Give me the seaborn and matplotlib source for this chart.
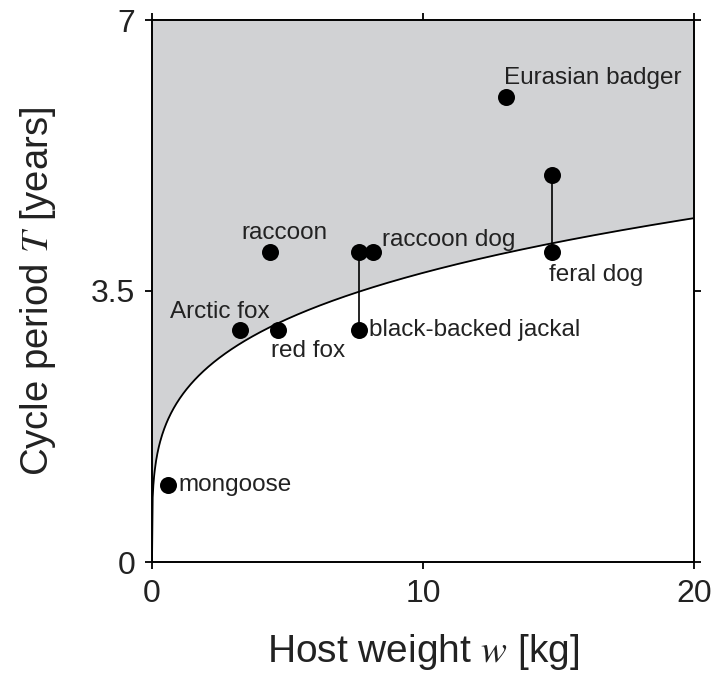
import numpy as np
import pandas as pd
import matplotlib
matplotlib.use("Agg")
import matplotlib.pyplot as plt
import seaborn as sns

# ---- data ----
species = ["mongoose", "Arctic fox", "red fox", "raccoon", "raccoon dog",
           "black-backed jackal", "feral dog", "Eurasian badger"]
weight_kg = [0.6, 3.25, 4.65, 4.35, 8.15, 7.65, 14.75, 13.05]
period_yr = [1.0, 3.0, 3.0, 4.0, 4.0, 3.0, 4.0, 6.0]

# upper ends of species with a range of observed periods
range_species = ["black-backed jackal", "feral dog"]
range_weight = [7.65, 14.75]
range_low = [3.0, 4.0]
range_high = [4.0, 5.0]

# theoretical boundary T = a * w^b
curve_coef = 2.1
curve_exp = 0.25

x_ticks = [0, 10, 20]
y_ticks = [0, 3.5, 7]
y_tick_labels = ["0", "3.5", "7"]

# ---- figure ----
sns.set_theme(style="ticks")
plt.rcParams["font.family"] = ["Liberation Sans", "DejaVu Sans"]
plt.rcParams["mathtext.fontset"] = "stix"

fig = plt.figure(figsize=(7.11, 6.74), dpi=100)
ax = fig.add_axes([152 / 711, 1 - 562 / 674, 542 / 711, 542 / 674])

w = np.linspace(0, 20, 800)
T = curve_coef * w ** curve_exp
ax.fill_between(w, T, 7, color="#d1d2d4", lw=0, zorder=0)
sns.lineplot(x=w, y=T, ax=ax, color="black", lw=1.3, zorder=2)

for xw, lo, hi in zip(range_weight, range_low, range_high):
    ax.plot([xw, xw], [lo, hi], color="black", lw=1.2, zorder=2)

pts = pd.DataFrame({"species": species + range_species,
                    "w": weight_kg + range_weight,
                    "T": period_yr + range_high})
sns.scatterplot(data=pts, x="w", y="T", ax=ax, color="black", s=150,
                edgecolor="black", linewidth=0, zorder=3)

# label offsets in pixels (dx, dy) and alignment
offsets = {
    "mongoose": (10, 0, "left", "center"),
    "Arctic fox": (-20, 18, "center", "center"),
    "red fox": (-7, -21, "left", "center"),
    "raccoon": (15, 19, "center", "center"),
    "raccoon dog": (9, 12, "left", "center"),
    "black-backed jackal": (10, 0, "left", "center"),
    "feral dog": (-3, -23, "left", "center"),
    "Eurasian badger": (-2, 19, "left", "center"),
}
for name, xw, tp in zip(species, weight_kg, period_yr):
    dx, dy, ha, va = offsets[name]
    ax.annotate(name, (xw, tp), xytext=(dx * 0.72, dy * 0.72),
                textcoords="offset points", ha=ha, va=va,
                fontsize=17.5, color="#222222")

ax.set_xlim(0, 20)
ax.set_ylim(0, 7)
ax.set_xticks(x_ticks)
ax.set_yticks(y_ticks)
ax.set_yticklabels(y_tick_labels)
ax.tick_params(axis="both", which="both", direction="out", length=5,
               width=1.3, labelsize=23, pad=7, colors="black",
               top=True, right=True)
ax.tick_params(axis="both", labelcolor="#222222")
for sp in ax.spines.values():
    sp.set_linewidth(1.4)
    sp.set_color("black")
    sp.set_visible(True)

ax.set_xlabel(r"Host weight $w$ [kg]", fontsize=28, labelpad=17, color="#222222")
ax.set_ylabel(r"Cycle period $T$ [years]", fontsize=27.5, labelpad=24, color="#222222")

fig.savefig("out.png", dpi=100)
